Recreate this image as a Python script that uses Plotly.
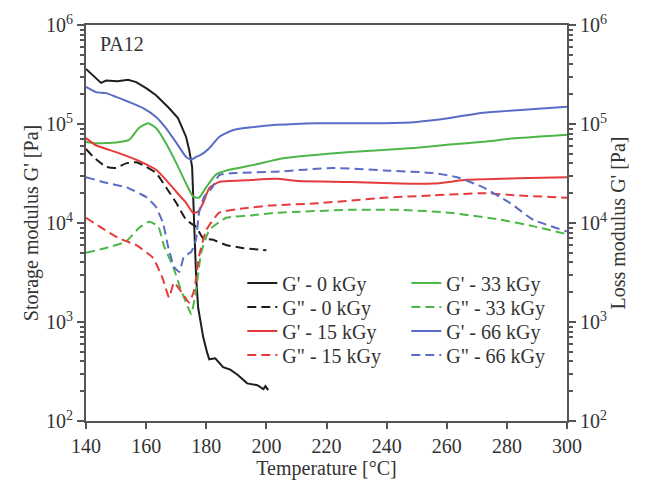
import plotly.graph_objects as go

# ---- data ----
T_gp0 = [140, 145, 146.7, 150.5, 154, 156.7, 160, 163.3, 167.6, 170.6, 173.3, 174.3, 175.3, 175.6, 176, 176.6, 177.3, 178, 179, 180.3, 181, 183, 185.6, 188, 190.6, 193.6, 197, 199, 199.7, 200.6]
G_gp0 = [3.6e5, 2.6e5, 2.75e5, 2.7e5, 2.8e5, 2.65e5, 2.3e5, 1.95e5, 1.45e5, 1.15e5, 7.4e4, 5.5e4, 3.7e4, 2.0e4, 9.2e3, 3.0e3, 1.4e3, 1.05e3, 7.0e2, 4.9e2, 4.2e2, 4.3e2, 3.5e2, 3.3e2, 2.9e2, 2.4e2, 2.3e2, 2.1e2, 2.25e2, 2.05e2]

T_gpp0 = [140, 142.3, 146.7, 150, 153.3, 156.7, 160, 163.3, 166.6, 170, 173.3, 175.6, 176.6, 179, 182, 186.6, 192, 200]
G_gpp0 = [5.6e4, 4.7e4, 3.7e4, 3.6e4, 4.0e4, 4.1e4, 3.7e4, 3.2e4, 2.3e4, 1.6e4, 1.08e4, 9.6e3, 9.2e3, 7.0e3, 6.8e3, 6.0e3, 5.6e3, 5.3e3]

T_gp15 = [140, 143.3, 150, 154.3, 159, 163.3, 166.6, 170, 173.3, 175.6, 177.3, 179, 181, 184.3, 193.3, 203.3, 211, 228, 244.5, 255.5, 267, 283.4, 300]
G_gp15 = [7.2e4, 6.1e4, 5.2e4, 4.65e4, 4.05e4, 3.45e4, 2.73e4, 2.07e4, 1.6e4, 1.27e4, 1.3e4, 1.6e4, 2.25e4, 2.6e4, 2.7e4, 2.8e4, 2.65e4, 2.6e4, 2.5e4, 2.5e4, 2.73e4, 2.83e4, 2.9e4]

T_gpp15 = [140, 144.3, 151, 156.6, 162.3, 165.6, 167.6, 169.3, 172.3, 174.3, 176, 177.6, 180, 184.3, 192, 201, 217, 239, 255.5, 272, 283.4, 300]
G_gpp15 = [1.13e4, 9.3e3, 7.0e3, 6.0e3, 4.45e3, 2.7e3, 1.77e3, 2.5e3, 1.9e3, 1.57e3, 2.1e3, 4.6e3, 8.5e3, 1.27e4, 1.4e4, 1.5e4, 1.58e4, 1.8e4, 1.9e4, 2.0e4, 1.9e4, 1.8e4]

T_gp33 = [140, 143.3, 150, 154.3, 157.6, 160.6, 163.3, 166.6, 170, 173.3, 175.6, 177.6, 180, 183.3, 187.6, 195.6, 205.6, 228, 250, 261, 272, 283.4, 300]
G_gp33 = [6.6e4, 6.4e4, 6.5e4, 6.9e4, 9.1e4, 1.02e5, 9.1e4, 6.4e4, 4.05e4, 2.5e4, 1.85e4, 1.8e4, 2.3e4, 3.1e4, 3.45e4, 3.85e4, 4.5e4, 5.2e4, 5.75e4, 6.2e4, 6.6e4, 7.2e4, 7.8e4]

T_gpp33 = [140, 146.7, 153.3, 157.6, 161, 164, 166, 169, 171.6, 173.3, 175, 176.6, 178.3, 181, 186.6, 195.6, 203.3, 211, 228, 244.5, 261, 277.8, 288.7, 300]
G_gpp33 = [5.0e3, 5.6e3, 6.5e3, 8.9e3, 1.03e4, 9.3e3, 5.8e3, 3.6e3, 2.1e3, 1.57e3, 1.2e3, 2.1e3, 5.0e3, 8.5e3, 1.13e4, 1.2e4, 1.27e4, 1.3e4, 1.36e4, 1.36e4, 1.27e4, 1.08e4, 9.3e3, 7.7e3]

T_gp66 = [140, 143.3, 146.7, 150, 154.3, 159, 163.3, 166.6, 170, 173.3, 175, 176.6, 178.3, 181, 184.3, 189, 195.6, 203.3, 217, 239, 250, 261, 272, 283.4, 300]
G_gp66 = [2.37e5, 2.1e5, 2.05e5, 1.88e5, 1.67e5, 1.45e5, 1.18e5, 9.1e4, 6.5e4, 4.65e4, 4.35e4, 4.65e4, 4.9e4, 5.7e4, 7.4e4, 8.7e4, 9.3e4, 9.8e4, 1.02e5, 1.02e5, 1.05e5, 1.15e5, 1.3e5, 1.38e5, 1.49e5]

T_gpp66 = [140, 146.7, 153.3, 160, 163.3, 165.6, 167.3, 169.3, 171, 172.6, 175, 176.6, 177.6, 179.3, 182, 184.3, 190, 203.3, 222, 239, 255.5, 263.5, 272, 281, 288.7, 300]
G_gpp66 = [2.9e4, 2.55e4, 2.3e4, 1.83e4, 1.45e4, 1.0e4, 5.8e3, 3.6e3, 3.2e3, 4.6e3, 5.1e3, 6.8e3, 1.27e4, 1.84e4, 2.28e4, 3.05e4, 3.2e4, 3.3e4, 3.6e4, 3.4e4, 3.2e4, 2.9e4, 2.3e4, 1.6e4, 1.08e4, 8.2e3]

x_ticks = [140, 160, 180, 200, 220, 240, 260, 280, 300]
y_ticks = [1e2, 1e3, 1e4, 1e5, 1e6]
y_ticktext = ["10<sup>2</sup>", "10<sup>3</sup>", "10<sup>4</sup>", "10<sup>5</sup>", "10<sup>6</sup>"]

BLACK = "#1e1e1e"
GREEN = "#4db648"
RED = "#e53b3b"
BLUE = "#5a6cc6"
DASH = "9px,5px"
FONT = "Liberation Serif"
TXT = "#333333"
AX = "#555555"

# legend rows: row legend id per series (two columns per row)
series = [
    ("G' - 0 kGy", T_gp0, G_gp0, BLACK, "solid", "y", "legend", 0.0),
    ("G' - 33 kGy", T_gp33, G_gp33, GREEN, "solid", "y", "legend", 0.5),
    ('G" - 0 kGy', T_gpp0, G_gpp0, BLACK, DASH, "y2", "legend2", 0.5),
    ('G" - 33 kGy', T_gpp33, G_gpp33, GREEN, DASH, "y2", "legend2", 0.4),
    ("G' - 15 kGy", T_gp15, G_gp15, RED, "solid", "y", "legend3", 0.5),
    ("G' - 66 kGy", T_gp66, G_gp66, BLUE, "solid", "y", "legend3", 0.5),
    ('G" - 15 kGy', T_gpp15, G_gpp15, RED, DASH, "y2", "legend4", 0.4),
    ('G" - 66 kGy', T_gpp66, G_gpp66, BLUE, DASH, "y2", "legend4", 0.4),
]

fig = go.Figure()
for name, xs, ys, col, dash, yax, leg, sm in series:
    shape = "spline" if sm > 0 else "linear"
    line = dict(color=col, width=2, dash=dash, shape=shape)
    if sm > 0:
        line["smoothing"] = sm
    fig.add_trace(go.Scatter(x=xs, y=ys, name=name, mode="lines", yaxis=yax,
                             legend=leg, line=line))

yax_common = dict(
    type="log", range=[2, 6], tickvals=y_ticks, ticktext=y_ticktext,
    ticks="outside", ticklen=7, tickwidth=1.5, automargin=False,
    tickcolor=AX, showline=True, linecolor=AX, linewidth=2, showgrid=False,
    zeroline=False, tickfont=dict(family=FONT, size=20, color=TXT),
    minor=dict(ticks="outside", ticklen=4, tickcolor=AX, dtick="D1", showgrid=False),
)

def row_legend(yc):
    return dict(x=0.325, y=(421 - yc) / 396, xanchor="left", yanchor="middle",
                orientation="h", entrywidth=119, entrywidthmode="pixels",
                bgcolor="rgba(0,0,0,0)", font=dict(family=FONT, size=20, color=TXT),
                itemwidth=30, tracegroupgap=0)

fig.update_layout(
    width=645, height=487,
    margin=dict(l=86, r=78, t=25, b=66),
    paper_bgcolor="white", plot_bgcolor="white",
    font=dict(family=FONT, color=TXT, size=18),
    xaxis=dict(range=[140, 300], tickvals=x_ticks, ticks="outside", ticklen=6,
               tickwidth=1.5, tickcolor=AX, showline=True, linecolor=AX,
               linewidth=2, mirror=True, showgrid=False, zeroline=False,
               automargin=False,
               tickfont=dict(family=FONT, size=20, color=TXT),
               title=dict(text="Temperature [°C]", font=dict(size=20), standoff=4)),
    yaxis=dict(**yax_common,
               title=dict(text="Storage modulus G' [Pa]", font=dict(size=20), standoff=2)),
    yaxis2=dict(**yax_common, overlaying="y", side="right",
                title=dict(text="Loss modulus G' [Pa]", font=dict(size=20), standoff=2)),
    legend=row_legend(283),
    legend2=row_legend(307),
    legend3=row_legend(331),
    legend4=row_legend(355),
    annotations=[dict(text="PA12", x=0.025, y=0.985, xref="paper", yref="paper",
                      xanchor="left", yanchor="top", showarrow=False,
                      font=dict(family=FONT, size=20, color=TXT))],
)

fig.write_html("out.html")
